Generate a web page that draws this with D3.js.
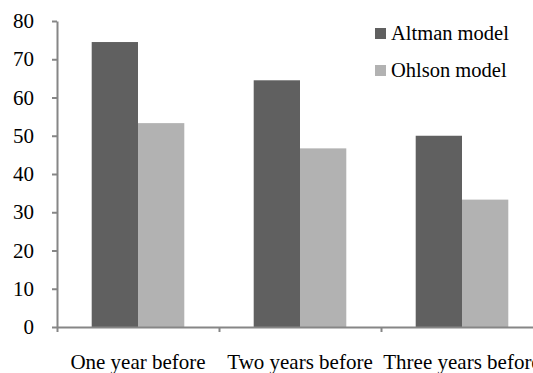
<!DOCTYPE html>
<html>
<head>
<meta charset="utf-8">
<script src="https://cdn.jsdelivr.net/npm/d3@7/dist/d3.min.js"></script>
<style>
  html, body { margin: 0; padding: 0; background: #fff; }
  svg { display: block; }
</style>
</head>
<body>
<svg id="chart" width="533" height="373" style="font-family:'Liberation Serif';font-size:21px"></svg>
<script>
// Prediction accuracy by horizon and model
const categories = ["One year before", "Two years before", "Three years before"];
const seriesNames = ["Altman model", "Ohlson model"];
const altmanValues = [74.5, 64.5, 50.0];
const ohlsonValues = [53.3, 46.7, 33.3];
const yTicks = [0, 10, 20, 30, 40, 50, 60, 70, 80];
const seriesColors = ["#606060", "#b2b2b2"];

const values = [altmanValues, ohlsonValues];
const svg = d3.select("#chart");

const plot = { left: 57, right: 543, top: 21, bottom: 327 };
const axisColor = "#868686";
const textStyle = "font-family:'Liberation Serif';font-size:21px";
const legendStyle = "font-family:'Liberation Serif';font-size:20.5px";

const x = d3.scaleBand().domain(categories).range([plot.left, plot.right]).padding(0);
const y = d3.scaleLinear().domain([0, 80]).range([plot.bottom, plot.top]);
const barW = 46.3;
const inner = d3.scaleBand().domain(seriesNames)
  .range([-barW, barW]).padding(0);

// Bars
const groups = svg.append("g").selectAll("g")
  .data(categories)
  .join("g")
  .attr("transform", d => `translate(${x(d) + x.bandwidth() / 2},0)`);

groups.selectAll("rect")
  .data((d, i) => seriesNames.map((s, j) => ({ s, v: values[j][i], j })))
  .join("rect")
  .attr("x", d => inner(d.s))
  .attr("width", inner.bandwidth())
  .attr("y", d => y(d.v))
  .attr("height", d => y(0) - y(d.v))
  .attr("fill", d => seriesColors[d.j]);

// Y axis
const yAxis = svg.append("g")
  .attr("transform", `translate(${plot.left},0)`)
  .call(d3.axisLeft(y).tickValues(yTicks).tickSize(5).tickSizeOuter(0).tickPadding(18));
yAxis.attr("font-family", null).attr("font-size", null).attr("style", textStyle);
yAxis.select(".domain").attr("stroke", axisColor).attr("stroke-width", 2);
yAxis.selectAll(".tick line").attr("stroke", axisColor).attr("stroke-width", 2);
yAxis.selectAll(".tick text").attr("style", textStyle).attr("fill", "#000");

// X axis: ticks at category boundaries, labels centred in each band
const xb = d3.scaleLinear().domain([0, categories.length]).range([plot.left, plot.right]);
const xAxis = svg.append("g")
  .attr("transform", `translate(0,${plot.bottom})`)
  .call(d3.axisBottom(xb).tickValues(d3.range(categories.length + 1))
    .tickSize(5).tickSizeOuter(0).tickFormat(""));
xAxis.attr("font-family", null).attr("font-size", null);
xAxis.select(".domain").attr("stroke", axisColor).attr("stroke-width", 2);
xAxis.selectAll(".tick line").attr("stroke", axisColor).attr("stroke-width", 2);
xAxis.selectAll(".tick text").remove();

svg.append("g").selectAll("text")
  .data(categories)
  .join("text")
  .attr("x", d => x(d) + x.bandwidth() / 2)
  .attr("y", 369)
  .attr("text-anchor", "middle")
  .attr("style", textStyle)
  .attr("fill", "#000")
  .text(d => d);

// Legend
const legend = svg.append("g").selectAll("g")
  .data(seriesNames)
  .join("g")
  .attr("transform", (d, i) => `translate(375,${28 + i * 37})`);
legend.append("rect")
  .attr("width", 11).attr("height", 11)
  .attr("fill", (d, i) => seriesColors[i]);
legend.append("text")
  .attr("x", 16).attr("y", 11.5)
  .attr("style", legendStyle)
  .attr("fill", "#000")
  .text(d => d);
</script>
</body>
</html>
